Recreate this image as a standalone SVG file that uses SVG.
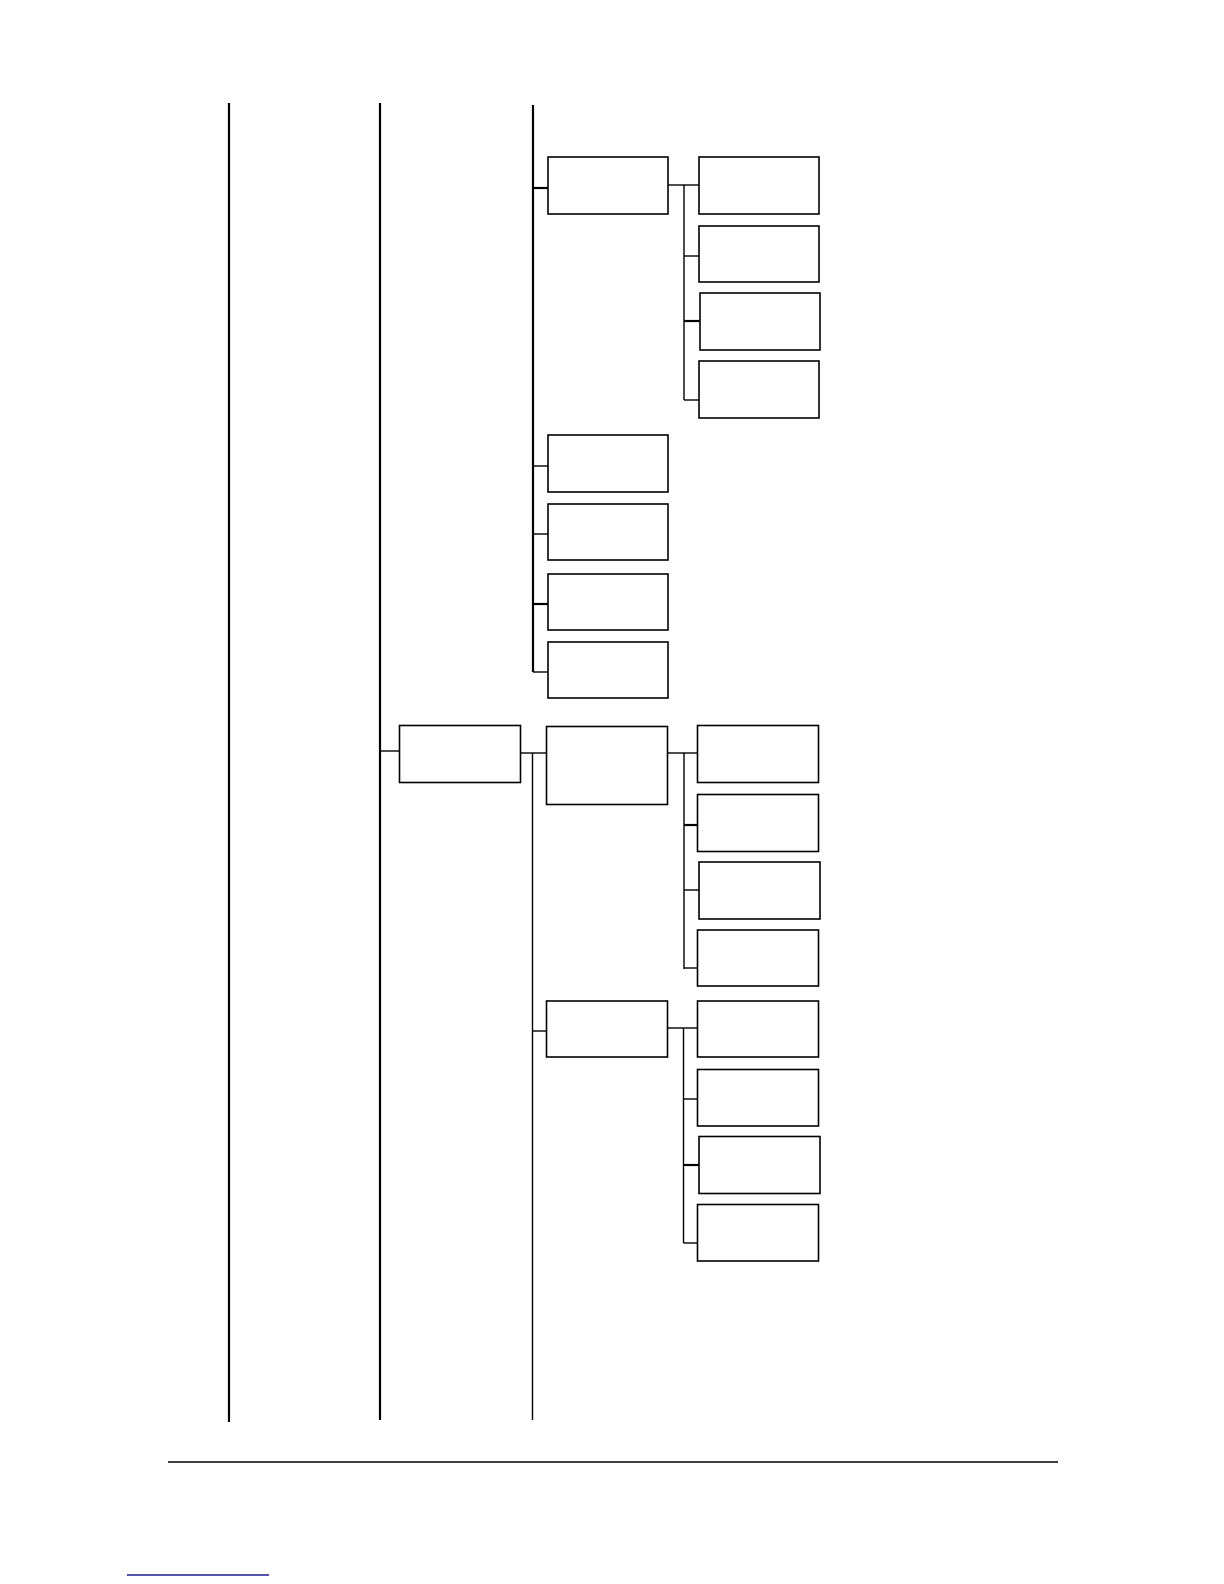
<svg xmlns="http://www.w3.org/2000/svg" width="1224" height="1584" viewBox="0 0 1224 1584">
  <style>
    .n { fill: #ffffff; stroke: #000000; stroke-width: 1.6; }
    .c { fill: none; stroke: #000000; stroke-width: 1.4; }
    .t { fill: none; stroke: #000000; stroke-width: 2.2; }
  </style>
  <rect x="0" y="0" width="1224" height="1584" fill="#ffffff"/>
  <g id="connectors">
    <line class="t" x1="229" y1="103" x2="229" y2="1422"/>
    <line class="t" x1="380" y1="103" x2="380" y2="1420"/>
    <line class="t" x1="533" y1="105" x2="533" y2="672"/>
    <line class="t" x1="533" y1="188" x2="548" y2="188"/>
    <line class="c" x1="533" y1="466" x2="548" y2="466"/>
    <line class="c" x1="533" y1="534" x2="548" y2="534"/>
    <line class="t" x1="533" y1="604" x2="548" y2="604"/>
    <line class="c" x1="533" y1="672" x2="548" y2="672"/>
    <line class="c" x1="668" y1="185" x2="699" y2="185"/>
    <line class="c" x1="684" y1="185" x2="684" y2="400"/>
    <line class="c" x1="684" y1="256" x2="699" y2="256"/>
    <line class="t" x1="684" y1="321" x2="700" y2="321"/>
    <line class="c" x1="684" y1="400" x2="699" y2="400"/>
    <line class="c" x1="380" y1="751" x2="399.5" y2="751"/>
    <line class="c" x1="520.5" y1="753" x2="546.5" y2="753"/>
    <line class="c" x1="532.5" y1="753" x2="532.5" y2="1420"/>
    <line class="c" x1="532.5" y1="1031" x2="546.5" y2="1031"/>
    <line class="c" x1="667.5" y1="753" x2="697.5" y2="753"/>
    <line class="c" x1="684" y1="753" x2="684" y2="969"/>
    <line class="t" x1="684" y1="825" x2="697.5" y2="825"/>
    <line class="c" x1="684" y1="890" x2="699" y2="890"/>
    <line class="c" x1="684" y1="968" x2="697.5" y2="968"/>
    <line class="c" x1="667.5" y1="1028" x2="697.5" y2="1028"/>
    <line class="c" x1="683.5" y1="1028" x2="683.5" y2="1243"/>
    <line class="c" x1="683.5" y1="1099" x2="697.5" y2="1099"/>
    <line class="t" x1="683.5" y1="1165" x2="699" y2="1165"/>
    <line class="c" x1="683.5" y1="1243" x2="697.5" y2="1243"/>
  </g>
  <g id="nodeA0"><rect class="n" x="548" y="157" width="120" height="57"/></g>
  <g id="nodeA1"><rect class="n" x="699" y="157" width="120" height="57"/></g>
  <g id="nodeA2"><rect class="n" x="699" y="226" width="120" height="56"/></g>
  <g id="nodeA3"><rect class="n" x="700" y="293" width="120" height="57"/></g>
  <g id="nodeA4"><rect class="n" x="699" y="361" width="120" height="57"/></g>
  <g id="nodeS1"><rect class="n" x="548" y="435" width="120" height="57"/></g>
  <g id="nodeS2"><rect class="n" x="548" y="504" width="120" height="56"/></g>
  <g id="nodeS3"><rect class="n" x="548" y="574" width="120" height="56"/></g>
  <g id="nodeS4"><rect class="n" x="548" y="642" width="120" height="56"/></g>
  <g id="nodeL2"><rect class="n" x="399.5" y="725.5" width="121" height="57"/></g>
  <g id="nodeB0"><rect class="n" x="546.5" y="726.5" width="121" height="78"/></g>
  <g id="nodeB1"><rect class="n" x="697.5" y="725.5" width="121" height="57"/></g>
  <g id="nodeB2"><rect class="n" x="697.5" y="794.5" width="121" height="57"/></g>
  <g id="nodeB3"><rect class="n" x="699" y="862" width="121" height="57"/></g>
  <g id="nodeB4"><rect class="n" x="697.5" y="930" width="121" height="56"/></g>
  <g id="nodeC0"><rect class="n" x="546.5" y="1001" width="121" height="56"/></g>
  <g id="nodeC1"><rect class="n" x="697.5" y="1001" width="121" height="56"/></g>
  <g id="nodeC2"><rect class="n" x="697.5" y="1069.5" width="121" height="56.5"/></g>
  <g id="nodeC3"><rect class="n" x="699" y="1136.5" width="121" height="57"/></g>
  <g id="nodeC4"><rect class="n" x="697.5" y="1204.5" width="121" height="56.5"/></g>
  <line x1="168" y1="1462" x2="1058" y2="1462" stroke="#000000" stroke-width="1.4"/>
  <line x1="127" y1="1575" x2="269" y2="1575" stroke="#1a1a8c" stroke-width="1.4"/>
</svg>
